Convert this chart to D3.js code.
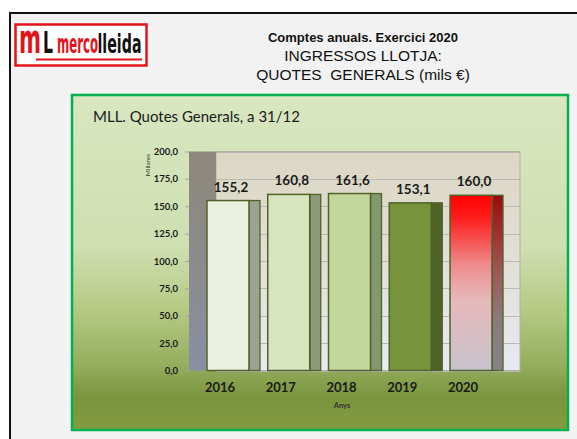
<!DOCTYPE html>
<meta charset="utf-8">
<style>
body { margin: 0; background: #fff; }
svg { display: block; }
.axis--y text { font: bold 9.5px Lato, sans-serif; fill: #1a1a1a; }
.axis--y line { stroke: #a6a6a6; }
</style>
<svg width="577" height="439"></svg>
<script src="https://cdn.jsdelivr.net/npm/d3@7"></script>
<script>

// values (thousands of euros)
var years = ["2016", "2017", "2018", "2019", "2020"],
    quotes = [155.2, 160.8, 161.6, 153.1, 160.0],
    yTicks = [0, 25, 50, 75, 100, 125, 150, 175, 200];

var headerLines = ["Comptes anuals. Exercici 2020", "INGRESSOS LLOTJA:", "QUOTES\u00a0 GENERALS (mils \u20ac)"];

// face colours for each bar (last one gets a gradient)
var frontFill = ["#ebf1de", "#d7e4bd", "#c3d69b", "#77933c", "url(#redFront)"],
    sideFill = ["#9ca391", "#8b9a78", "#859770", "#4f6228", "url(#redSide)"];

var svg = d3.select("svg");
var locale = d3.formatLocale({decimal: ",", thousands: ".", grouping: [3], currency: ["", "\u20ac"]});
var fmt = locale.format(".1f");

var defs = svg.append("defs");
function grad(id, stops) {
  var g = defs.append("linearGradient").attr("id", id)
      .attr("x1", 0).attr("y1", 0).attr("x2", 0).attr("y2", 1);
  stops.forEach(function(s) {
    g.append("stop").attr("offset", s[0]).attr("stop-color", s[1]);
  });
}
grad("boxBg", [[0, "#d9e6c1"], [0.45, "#cfdfb1"], [0.63, "#b7cb86"], [0.8, "#97ae60"], [0.9, "#7a953e"], [1, "#84993f"]]);
grad("backWall", [[0, "#dcd7c3"], [0.5, "#e1dfd6"], [1, "#e8eaf3"]]);
grad("leftWall", [[0, "#8d887c"], [0.5, "#8c8b8c"], [1, "#8a8ea4"]]);
grad("redFront", [[0, "#ff0000"], [0.12, "#ff1a1a"], [0.4, "#ee8c8e"], [0.6, "#e6b9bb"], [1, "#c8c2cc"]]);
grad("redSide", [[0, "#9c0a0a"], [0.4, "#a05252"], [0.7, "#8c7a7c"], [1, "#858285"]]);

// page frame
svg.append("rect")
    .attr("x", 10).attr("y", 13).attr("width", 600).attr("height", 460)
    .attr("fill", "#f2f2f2").attr("stroke", "#111").attr("stroke-width", 2);

// logo: each piece squeezed horizontally to fit its slot
var logo = svg.append("g");
logo.append("rect")
    .attr("x", 15.5).attr("y", 24.5).attr("width", 131).attr("height", 41)
    .attr("fill", "#fff").attr("stroke", "#e3141b").attr("stroke-width", 2.5);
var logoFont = "'Liberation Sans Narrow', 'DejaVu Sans Condensed', sans-serif";
var logoParts = [
  {t: "m", x: 19, w: 22, size: 40, c: "#e3141b"},
  {t: "L", x: 43, w: 10, size: 31, c: "#111"},
  {t: "merco", x: 57, w: 41, size: 27, c: "#e3141b"},
  {t: "lleida", x: 97.5, w: 44, size: 27, c: "#111"}
];
logoParts.forEach(function(p) {
  var t = logo.append("text")
      .style("font", "bold " + p.size + "px " + logoFont)
      .attr("fill", p.c).text(p.t);
  var sx = p.w / t.node().getComputedTextLength();
  t.attr("transform", "translate(" + p.x + ",53) scale(" + sx + ",1)");
});
logo.append("line")
    .attr("x1", 36).attr("x2", 142).attr("y1", 59.5).attr("y2", 59.5)
    .attr("stroke", "#e3141b").attr("stroke-width", 2);

// header
svg.selectAll(".head")
  .data(headerLines)
  .enter().append("text")
    .attr("class", "head")
    .attr("x", 363)
    .attr("y", function(d, i) { return [42, 61, 80][i]; })
    .attr("text-anchor", "middle")
    .style("font", function(d, i) { return i === 0 ? "bold 13px 'Liberation Sans', Arial, sans-serif" : "15.5px 'Liberation Sans', Arial, sans-serif"; })
    .attr("fill", "#111")
    .text(function(d) { return d; });

// chart box
svg.append("rect")
    .attr("x", 72).attr("y", 95).attr("width", 496).attr("height", 335)
    .attr("fill", "url(#boxBg)").attr("stroke", "#00b050").attr("stroke-width", 2.5);

svg.append("text")
    .attr("x", 93).attr("y", 122)
    .style("font", "15px Lato, sans-serif")
    .attr("fill", "#1a1a1a")
    .text("MLL. Quotes Generals, a 31/12");

// scales
var x = d3.scaleBand().domain(years).range([189, 510]).paddingInner(0.309).paddingOuter(0.296),
    y = d3.scaleLinear().domain([0, 200]).range([370.5, 151.5]);

var depth = 11, wallLeft = 189, wallFront = 216, wallRight = 520;

// walls
svg.append("rect")
    .attr("x", wallFront).attr("y", y(200))
    .attr("width", wallRight - wallFront).attr("height", y(0) - y(200))
    .attr("fill", "url(#backWall)").attr("stroke", "#b3af9f").attr("stroke-width", 1);

svg.append("g")
  .selectAll("line")
  .data(yTicks)
  .enter().append("line")
    .attr("x1", wallFront).attr("x2", wallRight)
    .attr("y1", function(d) { return Math.round(y(d)) + 0.5; })
    .attr("y2", function(d) { return Math.round(y(d)) + 0.5; })
    .attr("stroke", "#b8b8b4").attr("stroke-width", 1.2);

svg.append("rect")
    .attr("x", wallLeft).attr("y", y(200))
    .attr("width", wallFront - wallLeft).attr("height", y(0) - y(200))
    .attr("fill", "url(#leftWall)");

// y axis
svg.append("g")
    .attr("class", "axis axis--y")
    .attr("transform", "translate(" + wallLeft + ",0)")
    .call(d3.axisLeft(y).tickValues(yTicks).tickFormat(fmt).tickSize(4).tickPadding(7))
    .call(function(g) { g.select(".domain").remove(); });

svg.append("text")
    .attr("transform", "translate(150,165) rotate(-90)")
    .attr("text-anchor", "middle")
    .style("font", "6.5px Lato, sans-serif")
    .attr("fill", "#333")
    .text("Millares");

// bars
var bar = svg.selectAll(".bar")
  .data(quotes)
  .enter().append("g")
    .attr("class", "bar");

bar.append("rect")
    .attr("x", function(d, i) { return x(years[i]) + x.bandwidth(); })
    .attr("y", function(d) { return y(d); })
    .attr("width", depth)
    .attr("height", function(d) { return y(0) - y(d); })
    .attr("fill", function(d, i) { return sideFill[i]; })
    .attr("stroke", "#4f6228").attr("stroke-width", 1.3);

bar.append("rect")
    .attr("x", function(d, i) { return x(years[i]); })
    .attr("y", function(d) { return y(d); })
    .attr("width", x.bandwidth())
    .attr("height", function(d) { return y(0) - y(d); })
    .attr("fill", function(d, i) { return frontFill[i]; })
    .attr("stroke", "#4f6228").attr("stroke-width", 1.5);

bar.append("text")
    .attr("x", function(d, i) { return x(years[i]) + x.bandwidth() / 2 + 3; })
    .attr("y", function(d) { return y(d) - 9; })
    .attr("text-anchor", "middle")
    .style("font", "bold 13.5px Lato, sans-serif")
    .attr("fill", "#1a1a1a")
    .text(function(d) { return fmt(d); });

// x labels
svg.selectAll(".year")
  .data(years)
  .enter().append("text")
    .attr("class", "year")
    .attr("x", function(d) { return x(d) + x.bandwidth() / 2 - 8; })
    .attr("y", 392)
    .attr("text-anchor", "middle")
    .style("font", "bold 13px Lato, sans-serif")
    .attr("fill", "#1a1a1a")
    .text(function(d) { return d; });

svg.append("text")
    .attr("x", 342).attr("y", 408)
    .attr("text-anchor", "middle")
    .style("font", "bold 7.5px Lato, sans-serif")
    .attr("fill", "#333")
    .text("Anys");

</script>
